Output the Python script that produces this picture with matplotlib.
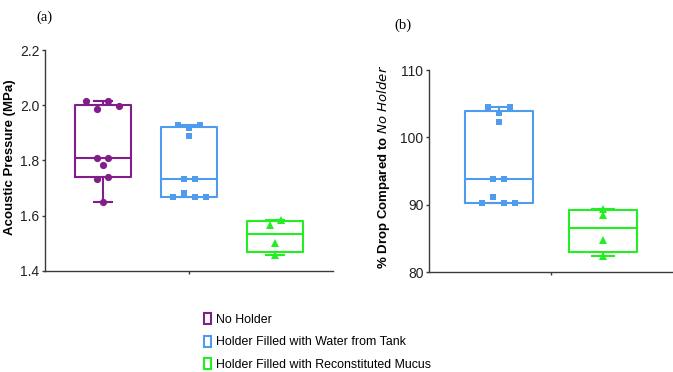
import numpy as np
import matplotlib
matplotlib.use("Agg")
import matplotlib.pyplot as plt
from matplotlib import cbook
from matplotlib.patches import Patch

plt.rcParams['font.family'] = ['Liberation Sans', 'DejaVu Sans']

# ---- data ----
groups = ["No Holder", "Holder Filled with Water from Tank",
          "Holder Filled with Reconstituted Mucus"]
colors = ["#811E8C", "#4F9CEF", "#22EE22"]
markers = ["o", "s", "^"]

pressure_no_holder = [1.651, 1.734, 1.741, 1.782, 1.808, 1.808, 1.988, 1.997, 2.015, 2.015]
pressure_water = [1.667, 1.667, 1.667, 1.684, 1.734, 1.734, 1.890, 1.916, 1.930, 1.930]
pressure_mucus = [1.458, 1.500, 1.567, 1.585]

drop_water = [90.31, 90.31, 90.31, 91.16, 93.83, 93.83, 102.26, 103.65, 104.5, 104.5]
drop_mucus = [82.38, 84.71, 88.43, 89.42]

ylabel_a = "Acoustic Pressure (MPa)"
ylabel_b = r"% Drop Compared to $\bf\it{No\ Holder}$"
yticks_a = [1.4, 1.6, 1.8, 2.0, 2.2]
yticks_b = [80, 90, 100, 110]

# ---- figure ----
W, H = 673, 372
fig = plt.figure(figsize=(W / 100, H / 100), dpi=100)
ax1 = fig.add_axes([45 / W, 1 - 271 / H, (333 - 45) / W, (271 - 50) / H])
ax2 = fig.add_axes([429 / W, 1 - 272 / H, (673 - 429) / W, (272 - 70) / H])


def prism_stats(data):
    s = cbook.boxplot_stats(data, whis=(0, 100))[0]
    s['q1'], s['med'], s['q3'] = np.percentile(data, [25, 50, 75], method='weibull')
    return s


def swarm_offsets(values, ax, spacing_px=11.0, row_px=6.0):
    """Row-wise spread of points whose values are close in pixel space;
    the point farthest from the row mean sits nearest the centre."""
    fig.canvas.draw()
    bb = ax.get_window_extent()
    y0, y1 = ax.get_ylim()
    x0, x1 = ax.get_xlim()
    ypx = bb.height / (y1 - y0)
    xpx = bb.width / (x1 - x0)
    vals = np.asarray(values, dtype=float)
    order = np.argsort(vals, kind='stable')
    rows = [[order[0]]]
    for i in order[1:]:
        if (vals[i] - vals[rows[-1][-1]]) * ypx < row_px:
            rows[-1].append(i)
        else:
            rows.append([i])
    out = np.zeros(len(vals))
    for r in rows:
        k = len(r)
        slots = sorted([j - (k - 1) / 2 for j in range(k)], key=lambda s: (abs(s), s))
        mean = vals[r].mean()
        members = sorted(r, key=lambda i: -abs(vals[i] - mean))
        for s, i in zip(slots, members):
            out[i] = s * spacing_px / xpx
    return out


def draw_panel(ax, datasets, cols, mks, positions, width, capw, xlim, ylim, yticks, fmt):
    ax.set_xlim(*xlim)
    ax.set_ylim(*ylim)
    for d, c, m, p in zip(datasets, cols, mks, positions):
        lw = 1.5
        ax.bxp([prism_stats(d)], positions=[p], widths=width, showfliers=False,
               capwidths=capw,
               boxprops=dict(color=c, linewidth=lw),
               whiskerprops=dict(color=c, linewidth=lw),
               capprops=dict(color=c, linewidth=lw),
               medianprops=dict(color=c, linewidth=lw))
        offs = swarm_offsets(d, ax)
        ax.plot(p + offs, d, linestyle='none', marker=m, color=c,
                markersize=5.0 if m == 's' else 5.2, markeredgewidth=0, zorder=5)
    ax.set_yticks(yticks)
    ax.set_yticklabels([fmt.format(t) for t in yticks])
    ax.set_xticks([0])
    ax.set_xticklabels([""])
    for s in ['top', 'right']:
        ax.spines[s].set_visible(False)
    for s in ['left', 'bottom']:
        ax.spines[s].set_color('#3a3a3a')
        ax.spines[s].set_linewidth(1.0)
    ax.tick_params(axis='both', colors='#3a3a3a', labelcolor='#222222',
                   labelsize=10, length=2.5, width=1.0, direction='out', pad=1.5)


draw_panel(ax1, [pressure_no_holder, pressure_water, pressure_mucus], colors, markers,
           [-1, 0, 1], 0.65, 0.2, (-1.674, 1.674), (1.4, 2.2), yticks_a, "{:.1f}")
draw_panel(ax2, [drop_water, drop_mucus], colors[1:], markers[1:],
           [-0.5, 0.5], 0.654, 0.22, (-1.173, 1.173), (80, 110), yticks_b, "{:d}")

ax1.set_ylabel(ylabel_a, fontsize=9.5, fontweight='bold')
ax2.set_ylabel(ylabel_b, fontsize=9.5, fontweight='bold')
# label centres (in pixels)
ax1.yaxis.set_label_coords((16 - 45) / (333 - 45), (271 - 157) / (271 - 50))
ax2.yaxis.set_label_coords((392 - 429) / (673 - 429), (272 - 167) / (272 - 70))

fig.text(44 / W, 1 - 17 / H, "(a)", fontsize=10.5, family='Liberation Serif',
         ha='center', va='center')
fig.text(403 / W, 1 - 25 / H, "(b)", fontsize=10.5, family='Liberation Serif',
         ha='center', va='center')

handles = [Patch(facecolor='white', edgecolor=c, linewidth=1.5) for c in colors]
fig.legend(handles, groups, loc='upper left', bbox_to_anchor=(204 / W, 1 - 313 / H),
           frameon=False, fontsize=8.9, handlelength=0.55, handleheight=1.0,
           handletextpad=0.4, labelspacing=0.8, borderpad=0, borderaxespad=0)

fig.savefig("out.png", dpi=100)
